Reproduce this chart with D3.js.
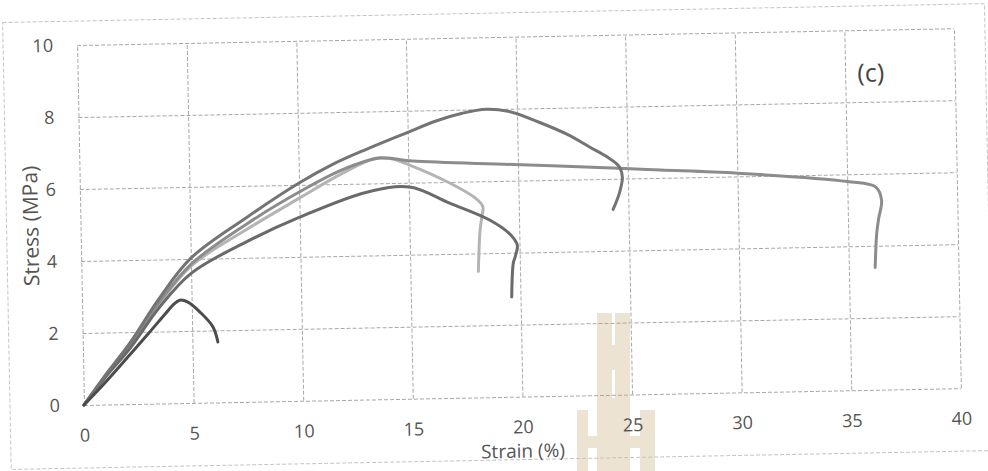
<!DOCTYPE html>
<html>
<head>
<meta charset="utf-8">
<script src="https://cdn.jsdelivr.net/npm/d3@7"></script>
<style>
  html, body { margin: 0; padding: 0; background: #ffffff; }
  svg { display: block; }
  text { font-family: "Open Sans", "Noto Sans", sans-serif; }
</style>
</head>
<body>
<svg id="chart" width="988" height="471"></svg>
<script>
// ---- data ----
const xTicks = [0, 5, 10, 15, 20, 25, 30, 35, 40];
const yTicks = [0, 2, 4, 6, 8, 10];
const xTitle = "Strain (%)";
const yTitle = "Stress (MPa)";
const panelLabel = "(c)";

// strain (%) / stress (MPa) values for each specimen
const strainA = [0, 1, 2, 3, 3.8, 4.2, 4.46, 4.83, 5.4, 5.95, 6.16];
const stressA = [0, 0.62, 1.28, 1.95, 2.5, 2.76, 2.86, 2.8, 2.5, 2.1, 1.68];

const strainB = [0, 1, 2.15, 3.5, 5, 7.6, 10, 11.55, 13.1, 15, 16.3, 17.5, 18.6, 19.6, 21, 22.3, 23.3, 24.1, 24.6, 24.75, 24.6, 24.3];
const stressB = [0, 0.82, 1.7, 2.9, 4.02, 5.13, 6.05, 6.55, 6.95, 7.4, 7.7, 7.9, 8.0, 7.93, 7.61, 7.25, 6.89, 6.6, 6.35, 6.05, 5.6, 5.15];

const strainC = [0, 1, 2.15, 3.5, 5, 7.6, 10, 12, 13.7, 15.2, 19.8, 24.6, 26.5, 30, 35, 36.3, 36.55, 36.4, 36.3, 36.2];
const stressC = [0, 0.8, 1.65, 2.8, 3.85, 4.95, 5.8, 6.4, 6.7, 6.6, 6.45, 6.29, 6.22, 6.09, 5.8, 5.63, 5.26, 4.75, 4.35, 3.4];

const strainD = [0, 1, 2.15, 3.5, 5, 7.6, 10, 12, 13.5, 14.2, 15.06, 16.87, 18.0, 18.36, 18.3, 18.2, 18.1];
const stressD = [0, 0.78, 1.62, 2.75, 3.8, 4.8, 5.63, 6.3, 6.7, 6.68, 6.49, 5.97, 5.55, 5.3, 5.0, 4.56, 3.5];

const strainE = [0, 1, 2.15, 3.5, 5, 7.57, 10, 13.08, 15.04, 16.85, 18.66, 19.6, 19.9, 19.8, 19.7, 19.6];
const stressE = [0, 0.76, 1.55, 2.65, 3.6, 4.45, 5.1, 5.76, 5.88, 5.41, 4.92, 4.5, 4.2, 3.9, 3.71, 2.77];

const seriesNames = ["A", "B", "C", "D", "E"];
const seriesColors = ["#4c4c4c", "#747474", "#8c8c8c", "#b4b4b4", "#6a6a6a"];

// ---- layout ----
const svg = d3.select("#chart");
const x = d3.scaleLinear().domain([0, 40]).range([84, 961]);
const y = d3.scaleLinear().domain([0, 10]).range([405, 45]);

// watermark (overlay from the scan)
const wm = svg.append("g").attr("fill", "#ece3d2");
[[577, 410, 11, 61], [597, 313, 15, 158], [615, 313, 15, 158], [640, 410, 15, 61],
 [588, 436, 9, 12], [630, 436, 10, 12], [612, 345, 3, 25], [612, 398, 3, 73]]
  .forEach(r => wm.append("rect").attr("x", r[0]).attr("y", r[1]).attr("width", r[2]).attr("height", r[3]));

// scanned page is slightly rotated
const g = svg.append("g").attr("transform", "rotate(-1.1, 84, 405)");

// outer frame
g.append("rect")
  .attr("x", 10).attr("y", 21).attr("width", 982).attr("height", 447)
  .attr("fill", "none").attr("stroke", "#c4c4c4").attr("stroke-width", 1)
  .attr("stroke-dasharray", "4,2");

// grid
const gridStyle = sel => {
  sel.select(".domain").remove();
  sel.selectAll(".tick line").attr("stroke", "#a8a8a8").attr("stroke-width", 1).attr("stroke-dasharray", "4,2");
  sel.selectAll(".tick text").remove();
};
g.append("g").attr("transform", `translate(0,${y(0)})`)
  .call(d3.axisBottom(x).tickValues(xTicks).tickSize(-(y(0) - y(10))))
  .call(gridStyle);
g.append("g").attr("transform", `translate(${x(0)},0)`)
  .call(d3.axisLeft(y).tickValues(yTicks).tickSize(-(x(40) - x(0))))
  .call(gridStyle);

// tick labels
const labelStyle = sel => {
  sel.select(".domain").remove();
  sel.selectAll(".tick line").remove();
  sel.selectAll(".tick text").attr("fill", "#555").attr("font-size", 18)
    .attr("font-family", "'Open Sans', sans-serif");
};
g.append("g").attr("transform", `translate(0,${y(0)})`)
  .call(d3.axisBottom(x).tickValues(xTicks).tickSize(0).tickPadding(24).tickFormat(d3.format("d")))
  .call(labelStyle);
g.append("g").attr("transform", `translate(${x(0)},0)`)
  .call(d3.axisLeft(y).tickValues(yTicks).tickSize(0).tickPadding(24).tickFormat(d3.format("d")))
  .call(labelStyle);

// series
const strains = [strainA, strainB, strainC, strainD, strainE];
const stresses = [stressA, stressB, stressC, stressD, stressE];
const line = d3.line().x(d => x(d[0])).y(d => y(d[1])).curve(d3.curveCatmullRom.alpha(0.5));
const drawOrder = [3, 2, 4, 1, 0];
drawOrder.forEach(i => {
  const pts = strains[i].map((s, k) => [s, stresses[i][k]]);
  g.append("path").datum(pts)
    .attr("class", "series-" + seriesNames[i])
    .attr("d", line)
    .attr("fill", "none")
    .attr("stroke", seriesColors[i])
    .attr("stroke-width", 3)
    .attr("stroke-linecap", "round")
    .attr("stroke-linejoin", "round");
});

// titles
g.append("text").attr("x", 522).attr("y", 461).attr("text-anchor", "middle")
  .attr("dominant-baseline", "middle").attr("font-size", 19).attr("fill", "#555").text(xTitle);
g.append("text").attr("transform", "translate(36,225) rotate(-90)").attr("text-anchor", "middle")
  .attr("dominant-baseline", "middle").attr("font-size", 21).attr("fill", "#555").text(yTitle);
g.append("text").attr("x", 877).attr("y", 90).attr("text-anchor", "middle")
  .attr("dominant-baseline", "middle").attr("font-size", 25).attr("fill", "#444").text(panelLabel);
</script>
</body>
</html>
